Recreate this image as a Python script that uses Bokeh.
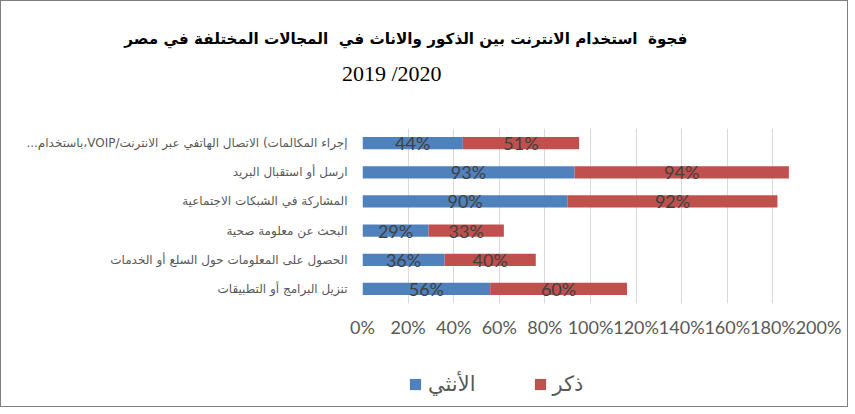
from bokeh.plotting import figure
from bokeh.layouts import column
from bokeh.models import (ColumnDataSource, FactorRange, FixedTicker, NumeralTickFormatter,
                          Title, Legend, LegendItem, Range1d)
from bokeh.core.properties import value
from bokeh.embed import file_html
from bokeh.resources import INLINE

RLE = "\u202b"
PDF = "\u202c"

categories = [
    "إجراء المكالمات) الاتصال الهاتفي عبر الانترنت/VOIP،باستخدام...",
    "ارسل أو استقبال البريد",
    "المشاركة في الشبكات الاجتماعية",
    "البحث عن معلومة صحية",
    "الحصول على المعلومات حول السلع أو الخدمات",
    "تنزيل البرامج أو التطبيقات",
]
female = [44, 93, 90, 29, 36, 56]
male = [51, 94, 92, 33, 40, 60]
series_names = ["الأنثي", "ذكر"]
x_ticks = [0, 0.2, 0.4, 0.6, 0.8, 1.0, 1.2, 1.4, 1.6, 1.8, 2.0]
title_line1 = "فجوة \u00a0استخدام الانترنت بين الذكور والاناث في \u00a0المجالات المختلفة في مصر"
title_line2 = "2019 /2020"

BLUE = "#4f81bd"
RED = "#c0504d"

cats = [RLE + c + PDF for c in categories]
f = [v / 100 for v in female]
m = [v / 100 for v in male]
src = ColumnDataSource(dict(
    cat=cats, female=f, male=m,
    f_mid=[a / 2 for a in f],
    m_mid=[a + b / 2 for a, b in zip(f, m)],
    f_lbl=[f"{v}%" for v in female],
    m_lbl=[f"{v}%" for v in male],
))

W = 846
p = figure(width=W, height=345, output_backend="svg", toolbar_location=None,
           y_range=FactorRange(factors=list(reversed(cats)), range_padding=0),
           x_range=(0, 2.0))
p.min_border_left = 361
p.min_border_right = 29
p.min_border_top = 127
p.min_border_bottom = 43
p.outline_line_color = None
p.background_fill_color = "white"
p.border_fill_color = "white"

r = p.hbar_stack(["female", "male"], y="cat", height=0.42, source=src,
                 color=[BLUE, RED], line_color=None)

for xcol, tcol in (("f_mid", "f_lbl"), ("m_mid", "m_lbl")):
    p.text(x=xcol, y="cat", text=tcol, source=src, text_align="center",
           text_baseline="middle", text_color="#404040",
           text_font=value("Lato"), text_font_size="18px")

p.xaxis.ticker = FixedTicker(ticks=x_ticks)
p.xaxis.formatter = NumeralTickFormatter(format="0%")
p.xaxis.axis_line_color = None
p.xaxis.major_tick_line_color = None
p.xaxis.minor_tick_line_color = None
p.xaxis.major_label_standoff = 6
p.xaxis.major_label_text_font = "Lato"
p.xaxis.major_label_text_font_size = "18px"
p.xaxis.major_label_text_color = "#595959"

p.yaxis.axis_line_color = None
p.yaxis.major_tick_line_color = None
p.yaxis.minor_tick_line_color = None
p.yaxis.major_label_standoff = 9
p.yaxis.major_label_text_font = "DejaVu Sans"
p.yaxis.major_label_text_font_size = "12px"
p.yaxis.major_label_text_color = "#595959"

p.xgrid.grid_line_color = "#d9d9d9"
p.ygrid.grid_line_color = None

# titles (above): spacer, line 2, line 1
p.add_layout(Title(text=" ", standoff=19, text_font_size="20px"), "above")
p.add_layout(Title(text=title_line2, align="right", offset=377, standoff=0,
                   text_font="Liberation Serif", text_font_style="normal",
                   text_font_size="22px", text_color="#000000"), "above")
p.add_layout(Title(text=RLE + title_line1 + PDF, align="right", offset=131, standoff=22,
                   text_font="DejaVu Sans", text_font_style="bold",
                   text_font_size="15.2px", text_color="#000000"), "above")

# legend strip: same series, zero-height and out of view; only the legend shows
q = figure(width=W, height=60, output_backend="svg", toolbar_location=None,
           x_range=Range1d(-2, -1),
           y_range=FactorRange(factors=list(reversed(cats)), range_padding=0),
           min_border=0)
q.axis.visible = False
q.grid.grid_line_color = None
q.outline_line_color = None
q.background_fill_color = "white"
q.border_fill_color = "white"
rq = q.hbar_stack(["female", "male"], y="cat", height=0, source=src,
                  color=[BLUE, RED], line_color=None)
legend = Legend(items=[LegendItem(label=series_names[0], renderers=[rq[0]]),
                       LegendItem(label=series_names[1], renderers=[rq[1]])],
                orientation="horizontal", location=(46, 10),
                padding=0, margin=0, spacing=57, label_standoff=6,
                glyph_width=14, glyph_height=14,
                label_text_font="DejaVu Sans", label_text_font_size="21px",
                label_text_color="#595959", border_line_color=None,
                background_fill_alpha=0)
q.add_layout(legend, "center")

layout = column(p, q, spacing=0, styles={"border": "1px solid #7f7f7f"})

open("out.html", "w").write(file_html(layout, INLINE))
